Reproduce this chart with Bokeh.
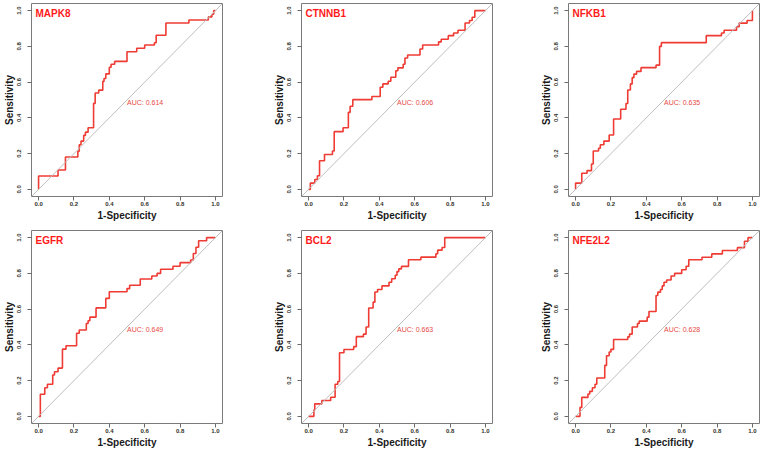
from bokeh.plotting import figure
from bokeh.layouts import column, row
from bokeh.models import Range1d, FixedTicker, PrintfTickFormatter, Slope, Label
from bokeh.embed import file_html
from bokeh.resources import INLINE

GENES = ["MAPK8", "CTNNB1", "NFKB1", "EGFR", "BCL2", "NFE2L2"]
AUCS = ["AUC: 0.614", "AUC: 0.606", "AUC: 0.635", "AUC: 0.649", "AUC: 0.663", "AUC: 0.628"]
TICKS = [0.0, 0.2, 0.4, 0.6, 0.8, 1.0]
X_LABEL = "1-Specificity"
Y_LABEL = "Sensitivity"

MAPK8_FPR = [0, 0, 0.11, 0.152, 0.222, 0.23, 0.24, 0.255, 0.265, 0.28, 0.311, 0.32, 0.34, 0.363, 0.37,
             0.38, 0.40, 0.41, 0.43, 0.5, 0.555, 0.6, 0.655, 0.665, 0.72, 0.85, 0.96, 0.98, 0.99, 1.0]
MAPK8_TPR = [0, 0.075, 0.108, 0.181, 0.213, 0.25, 0.27, 0.302, 0.32, 0.345, 0.481, 0.539, 0.555, 0.604, 0.62,
             0.646, 0.683, 0.70, 0.716, 0.77, 0.79, 0.808, 0.82, 0.862, 0.931, 0.948, 0.965, 0.98, 1.0, 1.0]

CTNNB1_FPR = [0, 0.01, 0.035, 0.05, 0.062, 0.09, 0.135, 0.145, 0.195, 0.225, 0.235, 0.25, 0.358, 0.405, 0.42,
              0.45, 0.465, 0.493, 0.505, 0.535, 0.545, 0.56, 0.63, 0.645, 0.735, 0.75, 0.79, 0.82, 0.845,
              0.885, 0.91, 0.925, 0.94, 1.0]
CTNNB1_TPR = [0, 0.035, 0.055, 0.076, 0.16, 0.195, 0.215, 0.323, 0.345, 0.431, 0.465, 0.502, 0.52, 0.571, 0.59,
              0.605, 0.627, 0.664, 0.68, 0.70, 0.735, 0.752, 0.785, 0.808, 0.825, 0.84, 0.86, 0.875, 0.89,
              0.931, 0.945, 0.963, 1.0, 1.0]

NFKB1_FPR = [0, 0, 0.035, 0.065, 0.09, 0.1, 0.13, 0.14, 0.16, 0.19, 0.215, 0.255, 0.285, 0.295, 0.31, 0.32,
             0.33, 0.345, 0.37, 0.455, 0.475, 0.485, 0.739, 0.825, 0.84, 0.91, 0.925, 0.97, 1.0]
NFKB1_TPR = [0, 0.035, 0.09, 0.105, 0.142, 0.215, 0.23, 0.25, 0.27, 0.304, 0.394, 0.448, 0.48, 0.556, 0.59,
             0.625, 0.645, 0.66, 0.681, 0.695, 0.80, 0.821, 0.86, 0.875, 0.89, 0.91, 0.93, 0.945, 1.0]

EGFR_FPR = [0, 0.01, 0.035, 0.05, 0.08, 0.09, 0.11, 0.135, 0.155, 0.215, 0.23, 0.27, 0.28, 0.29, 0.325, 0.38,
            0.4, 0.5, 0.515, 0.575, 0.64, 0.67, 0.69, 0.76, 0.8, 0.86, 0.875, 0.89, 0.905, 0.95, 1.0]
EGFR_TPR = [0, 0.124, 0.16, 0.18, 0.231, 0.25, 0.27, 0.376, 0.395, 0.465, 0.483, 0.52, 0.535, 0.555, 0.607,
            0.66, 0.697, 0.715, 0.734, 0.769, 0.785, 0.80, 0.823, 0.84, 0.86, 0.875, 0.911, 0.946, 0.983, 1.0, 1.0]

BCL2_FPR = [0, 0.03, 0.035, 0.075, 0.125, 0.15, 0.165, 0.175, 0.2, 0.255, 0.27, 0.31, 0.325, 0.34, 0.365,
            0.375, 0.39, 0.415, 0.455, 0.47, 0.49, 0.5, 0.51, 0.525, 0.565, 0.635, 0.72, 0.73, 0.755, 0.77, 1.0]
BCL2_TPR = [0, 0.035, 0.07, 0.089, 0.107, 0.18, 0.195, 0.356, 0.374, 0.39, 0.446, 0.46, 0.5, 0.606, 0.639,
            0.696, 0.71, 0.73, 0.75, 0.77, 0.79, 0.81, 0.825, 0.839, 0.876, 0.891, 0.91, 0.93, 0.945, 1.0, 1.0]

NFE2L2_FPR = [0, 0.025, 0.035, 0.07, 0.08, 0.095, 0.11, 0.12, 0.165, 0.175, 0.19, 0.2, 0.215, 0.295, 0.305,
              0.32, 0.35, 0.36, 0.405, 0.415, 0.455, 0.465, 0.48, 0.49, 0.5, 0.515, 0.54, 0.56, 0.6, 0.625,
              0.64, 0.715, 0.77, 0.83, 0.915, 0.955, 0.975, 1.0]
NFE2L2_TPR = [0, 0.05, 0.106, 0.125, 0.14, 0.16, 0.18, 0.215, 0.285, 0.339, 0.36, 0.375, 0.43, 0.445, 0.46,
              0.5, 0.52, 0.533, 0.555, 0.587, 0.676, 0.695, 0.71, 0.73, 0.75, 0.763, 0.785, 0.80, 0.82, 0.84,
              0.876, 0.89, 0.909, 0.928, 0.944, 0.98, 1.0, 1.0]

FPRS = [MAPK8_FPR, CTNNB1_FPR, NFKB1_FPR, EGFR_FPR, BCL2_FPR, NFE2L2_FPR]
TPRS = [MAPK8_TPR, CTNNB1_TPR, NFKB1_TPR, EGFR_TPR, BCL2_TPR, NFE2L2_TPR]

FONT = "Liberation Sans"
FRAME_W, FRAME_H = 192, 193
LEFT = 30
RIGHTS = [48, 45, 4]
TOPS = [3, 6]
BOTTOMS = [28, 27]


def make(i):
    col = i % 3
    rw = i // 3
    right = RIGHTS[col]
    top = TOPS[rw]
    bottom = BOTTOMS[rw]
    p = figure(width=LEFT + FRAME_W + right, height=top + FRAME_H + bottom,
               output_backend="svg", toolbar_location=None,
               x_range=Range1d(-0.04, 1.04), y_range=Range1d(-0.04, 1.04),
               min_border_left=LEFT, min_border_right=right,
               min_border_top=top, min_border_bottom=bottom)
    p.grid.visible = False
    p.outline_line_color = "#7a7a7a"
    p.outline_line_width = 1
    p.background_fill_color = "white"
    p.border_fill_color = "white"

    for ax, lab in ((p.xaxis[0], X_LABEL), (p.yaxis[0], Y_LABEL)):
        ax.ticker = FixedTicker(ticks=TICKS)
        ax.formatter = PrintfTickFormatter(format="%.1f")
        ax.axis_line_color = None
        ax.major_tick_line_color = "#6a6a6a"
        ax.major_tick_out = 4
        ax.major_tick_in = 0
        ax.minor_tick_line_color = None
        ax.major_label_text_font = FONT
        ax.major_label_text_font_style = "bold"
        ax.major_label_text_font_size = "6px"
        ax.major_label_text_color = "#33332a"
        ax.axis_label = lab
        ax.axis_label_text_font = FONT
        ax.axis_label_text_font_style = "bold"
        ax.axis_label_text_font_size = "10px"
        ax.axis_label_text_color = "#1a1a1a"
    p.xaxis[0].major_label_standoff = 1
    p.xaxis[0].axis_label_standoff = 1
    p.yaxis[0].major_label_standoff = 6
    p.yaxis[0].axis_label_standoff = 0
    p.yaxis[0].major_label_orientation = "vertical"

    p.add_layout(Slope(gradient=1, y_intercept=0, line_color="#bdbdbd", line_width=1))
    p.step(FPRS[i], TPRS[i], mode="after", line_color="#ee3b33", line_width=1.6)

    p.add_layout(Label(x=-0.0175, y=0.986, text=GENES[i], text_font=FONT, text_font_style="bold",
                       text_font_size="10px", text_color="#ff1a1a", text_baseline="middle",
                       text_align="left"))
    p.add_layout(Label(x=0.5, y=0.487, text=AUCS[i], text_font=FONT,
                       text_font_size="7px", text_color="#e64a45", text_baseline="middle",
                       text_align="left"))
    return p


figs = [make(i) for i in range(6)]
layout = column(row(*figs[:3]), row(*figs[3:]))

open("out.html", "w").write(file_html(layout, INLINE))
